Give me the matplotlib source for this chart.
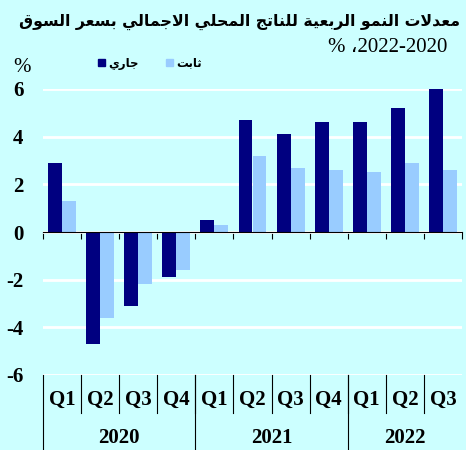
import matplotlib
matplotlib.use("Agg")
import matplotlib.pyplot as plt
import numpy as np

# quarterly GDP growth at market prices, %
quarters = ["Q1", "Q2", "Q3", "Q4", "Q1", "Q2", "Q3", "Q4", "Q1", "Q2", "Q3"]
years = ["2020", "2021", "2022"]
year_quarters = [4, 4, 3]
current = [2.9, -4.7, -3.1, -1.9, 0.5, 4.7, 4.1, 4.6, 4.6, 5.2, 6.0]
constant = [1.3, -3.6, -2.2, -1.6, 0.3, 3.2, 2.7, 2.6, 2.5, 2.9, 2.6]

title = "معدلات النمو الربعية للناتج المحلي الاجمالي بسعر السوق"
subtitle = "% ،2022-2020"
label_current = "جاري"
label_constant = "ثابت"

# matplotlib has no arabic shaping, so map letters to presentation forms
FORMS = {
    'ا': ('\uFE8D', '\uFE8E', None, None),
    'ب': ('\uFE8F', '\uFE90', '\uFE91', '\uFE92'),
    'ة': ('\uFE93', '\uFE94', None, None),
    'ت': ('\uFE95', '\uFE96', '\uFE97', '\uFE98'),
    'ث': ('\uFE99', '\uFE9A', '\uFE9B', '\uFE9C'),
    'ج': ('\uFE9D', '\uFE9E', '\uFE9F', '\uFEA0'),
    'ح': ('\uFEA1', '\uFEA2', '\uFEA3', '\uFEA4'),
    'د': ('\uFEA9', '\uFEAA', None, None),
    'ر': ('\uFEAD', '\uFEAE', None, None),
    'س': ('\uFEB1', '\uFEB2', '\uFEB3', '\uFEB4'),
    'ع': ('\uFEC9', '\uFECA', '\uFECB', '\uFECC'),
    'ق': ('\uFED5', '\uFED6', '\uFED7', '\uFED8'),
    'ل': ('\uFEDD', '\uFEDE', '\uFEDF', '\uFEE0'),
    'م': ('\uFEE1', '\uFEE2', '\uFEE3', '\uFEE4'),
    'ن': ('\uFEE5', '\uFEE6', '\uFEE7', '\uFEE8'),
    'و': ('\uFEED', '\uFEEE', None, None),
    'ي': ('\uFEF1', '\uFEF2', '\uFEF3', '\uFEF4'),
}


def joins_next(c):
    return c in FORMS and FORMS[c][2] is not None


def shape(text):
    out = []
    i = 0
    n = len(text)
    while i < n:
        c = text[i]
        if c not in FORMS:
            out.append(c)
            i += 1
            continue
        link_prev = i > 0 and joins_next(text[i - 1])
        if c == 'ل' and i + 1 < n and text[i + 1] == 'ا':
            out.append('\uFEFC' if link_prev else '\uFEFB')
            i += 2
            continue
        link_next = joins_next(c) and i + 1 < n and text[i + 1] in FORMS
        iso, fin, ini, med = FORMS[c]
        if link_prev and link_next:
            out.append(med)
        elif link_prev:
            out.append(fin)
        elif link_next:
            out.append(ini)
        else:
            out.append(iso)
        i += 1
    return "".join(out)[::-1]


plt.rcParams["axes.unicode_minus"] = False

bg = "#ccffff"
navy = "#000080"
light = "#99ccff"
serif = ["Liberation Serif", "DejaVu Serif"]

fig = plt.figure(figsize=(4.66, 4.5), dpi=100, facecolor=bg)
ax = fig.add_axes([43 / 466, 1 - 375 / 450, 419 / 466, 286 / 450])
ax.set_facecolor(bg)

x = np.arange(len(quarters))
w = 0.367
ax.bar(x - w / 2, current, w, color=navy, zorder=3)
ax.bar(x + w / 2, constant, w, color=light, zorder=3)

ax.set_xlim(-0.5, len(quarters) - 0.5)
ax.set_ylim(-6, 6)
ax.set_yticks(np.arange(-6, 7, 2))
ax.yaxis.grid(True, color="white", linewidth=2, zorder=0)
ax.set_axisbelow(True)
for s in ["top", "right", "left"]:
    ax.spines[s].set_visible(False)
ax.spines["bottom"].set_position(("data", 0))
ax.spines["bottom"].set_zorder(4)
ax.set_xticks(np.arange(-0.5, len(quarters), 1))
ax.set_xticklabels([])
ax.tick_params(axis="x", direction="out", length=5, color="black")
ax.tick_params(axis="y", length=0, pad=14)
for lab in ax.get_yticklabels():
    lab.set_fontfamily(serif)
    lab.set_fontweight("bold")
    lab.set_fontsize(15)

# category boxes under the plot
trans = ax.get_xaxis_transform()
for i, q in enumerate(quarters):
    ax.text(i, -0.087, q, transform=trans, ha="center", va="center",
            family=serif, fontweight="bold", fontsize=15, clip_on=False)
    if i > 0:
        ax.plot([i - 0.5, i - 0.5], [0, -0.133], transform=trans, color="black",
                linewidth=0.8, clip_on=False)
start = 0
for y, n in zip(years, year_quarters):
    ax.plot([start - 0.5, start - 0.5], [0, -0.262], transform=trans, color="black",
            linewidth=0.8, clip_on=False)
    ax.text(start + (n - 1) / 2, -0.222, y, transform=trans, ha="center", va="center",
            family=serif, fontweight="bold", fontsize=15, clip_on=False)
    start += n

fig.text(460 / 466, 1 - 22 / 450, shape(title), ha="right", va="center",
         family="DejaVu Sans", fontweight="bold", fontsize=11.3)
fig.text(447 / 466, 1 - 48 / 450, subtitle, ha="right", va="center",
         family=serif + ["DejaVu Sans"], fontsize=15)
fig.text(22 / 466, 1 - 67 / 450, "%", ha="center", va="center",
         family=serif, fontsize=15)

# legend
fig.patches.append(plt.Rectangle((98 / 466, 1 - 66 / 450), 7 / 466, 7 / 450,
                                 transform=fig.transFigure, color=navy))
fig.text(108 / 466, 1 - 63 / 450, shape(label_current), ha="left", va="center",
         family="DejaVu Sans", fontweight="bold", fontsize=8.5)
fig.patches.append(plt.Rectangle((166 / 466, 1 - 66 / 450), 7 / 466, 7 / 450,
                                 transform=fig.transFigure, color=light))
fig.text(176 / 466, 1 - 63 / 450, shape(label_constant), ha="left", va="center",
         family="DejaVu Sans", fontweight="bold", fontsize=8.5)

fig.savefig("out.png", dpi=100, facecolor=bg)
